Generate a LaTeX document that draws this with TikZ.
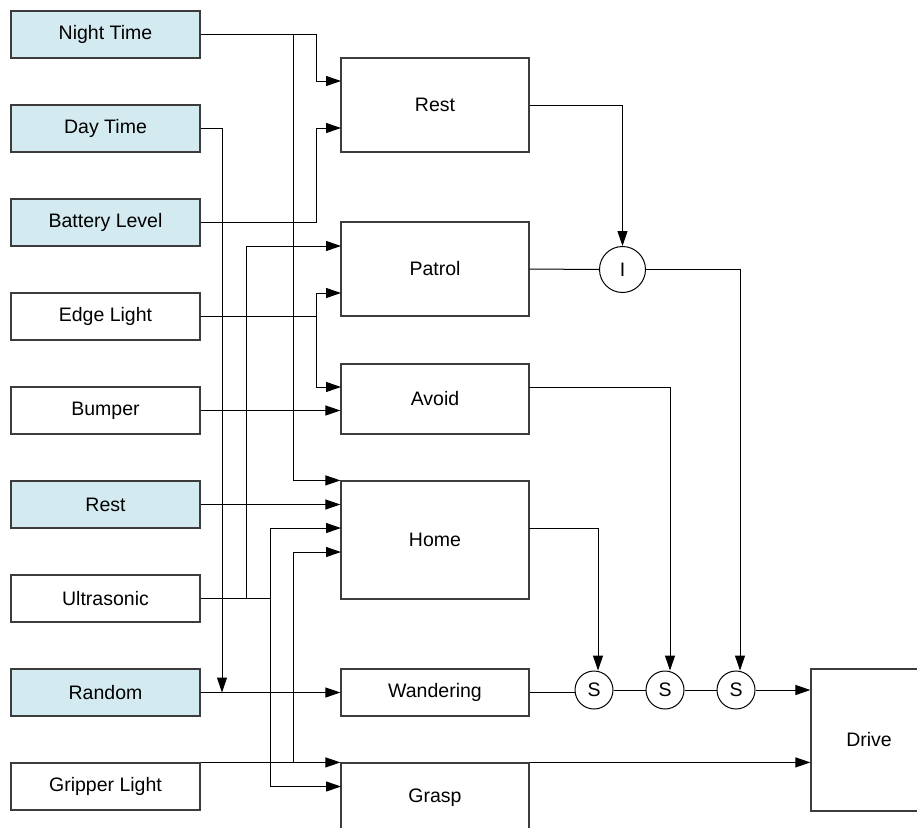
\documentclass[tikz,border=0pt]{standalone}
\usepackage{fontspec}
\setmainfont{Liberation Sans}
\usetikzlibrary{arrows.meta}
\definecolor{skyfill}{RGB}{211,234,240}
\definecolor{boxline}{RGB}{60,60,60}
\begin{document}
\begin{tikzpicture}[x=1pt,y=-1pt,
  every node/.style={font=\fontsize{19.5pt}{22pt}\selectfont, inner sep=0pt},
  inbox/.style={draw=boxline, line width=1.2pt, minimum width=189pt, minimum height=47pt},
  sky/.style={inbox, fill=skyfill},
  behav/.style={draw=boxline, line width=1.2pt, minimum width=188pt},
  junc/.style={draw=black, circle, line width=1pt},
  wire/.style={draw=black, line width=1pt},
  arr/.style={wire, -{Triangle[length=15pt,width=10pt]}}]
\clip (0,0) rectangle (917,827);

% sensor and state inputs
\node[sky]   (night) at (105.5,34.5)  {Night Time};
\node[sky]   (day)   at (105.5,128.5) {Day Time};
\node[sky]   (batt)  at (105.5,222.5) {Battery Level};
\node[inbox] (edge)  at (105.5,316.5) {Edge Light};
\node[inbox] (bump)  at (105.5,410.5) {Bumper};
\node[sky]   (rstin) at (105.5,504.5) {Rest};
\node[inbox] (ultra) at (105.5,598.5) {Ultrasonic};
\node[sky]   (rand)  at (105.5,692.5) {Random};
\node[inbox] (grip)  at (105.5,786.5) {Gripper Light};

% behaviours
\node[behav, minimum height=94pt]  (brest)  at (435,105)   {Rest};
\node[behav, minimum height=94pt]  (patrol) at (435,269)   {Patrol};
\node[behav, minimum height=70pt]  (avoid)  at (435,399)   {Avoid};
\node[behav, minimum height=118pt] (home)   at (435,540)   {Home};
\node[behav, minimum height=47pt]  (wand)   at (435,692.5) {Wandering};
\node[behav, minimum height=70pt]  (grasp)  at (435,798)   {Grasp};

% arbitration and actuator
\node[junc, minimum size=46pt] (inh) at (622.5,269.5) {I};
\node[junc, minimum size=38pt] (s1)  at (594,690)   {S};
\node[junc, minimum size=38pt] (s2)  at (665,690)   {S};
\node[junc, minimum size=38pt] (s3)  at (736,690)   {S};
\node[behav, minimum width=116pt, minimum height=142pt] (drive) at (869,740) {Drive};

% wiring lanes
\coordinate (L1) at (222,0);
\coordinate (L2) at (246,0);
\coordinate (L3) at (270,0);
\coordinate (L4) at (293,0);
\coordinate (L5) at (316,0);

% input ports on the behaviours
\coordinate (rIn1) at (341,81);
\coordinate (rIn2) at (341,128);
\coordinate (pIn1) at (341,246);
\coordinate (pIn2) at (341,293);
\coordinate (aIn1) at (341,387);
\coordinate (hIn3) at (341,528);
\coordinate (hIn4) at (341,552);
\coordinate (gIn2) at (341,786.5);
% output ports
\coordinate (aOut) at (529,387);
\coordinate (hOut) at (529,528);

% left-hand connections
\draw[arr] (night.east) -| (L5 |- rIn1) -- (rIn1);
\draw[arr] (L4 |- night.east) |- (home.north west);
\draw[arr] (day.east) -| (L1 |- rand.east);
\draw[arr] (batt.east) -| (L5 |- rIn2) -- (rIn2);
\draw[arr] (edge.east) -| (L5 |- pIn2) -- (pIn2);
\draw[arr] (L5 |- edge.east) |- (aIn1);
\draw[arr] (bump.east) -- (bump.east -| avoid.west);
\draw[arr] (rstin.east) -- (rstin.east -| home.west);
\draw[arr] (ultra.east) -| (L3 |- hIn3) -- (hIn3);
\draw[arr] (L2 |- ultra.east) |- (pIn1);
\draw[arr] (L3 |- ultra.east) |- (gIn2);
\draw[arr] (rand.east) -- (rand.east -| wand.west);
\draw[arr] (grip.north east) -- (grasp.north west);
\draw[arr] (L4 |- grip.north east) |- (hIn4);

% right-hand connections
\draw[arr] (brest.east) -| (inh.north);
\draw[wire] (patrol.east) -- (inh.west);
\draw[arr] (inh.east) -| ([xshift=4pt]s3.north);
\draw[arr] (aOut) -| ([xshift=5pt]s2.north);
\draw[arr] (hOut) -| ([xshift=4pt]s1.north);
\draw[wire] (wand.east) -- (wand.east -| s1.west);
\draw[wire] (s1.east) -- (s2.west);
\draw[wire] (s2.east) -- (s3.west);
\draw[arr] (s3.east) -- (s3.east -| drive.west);
\draw[arr] (grasp.north east) -- (grasp.north east -| drive.west);
\end{tikzpicture}
\end{document}
